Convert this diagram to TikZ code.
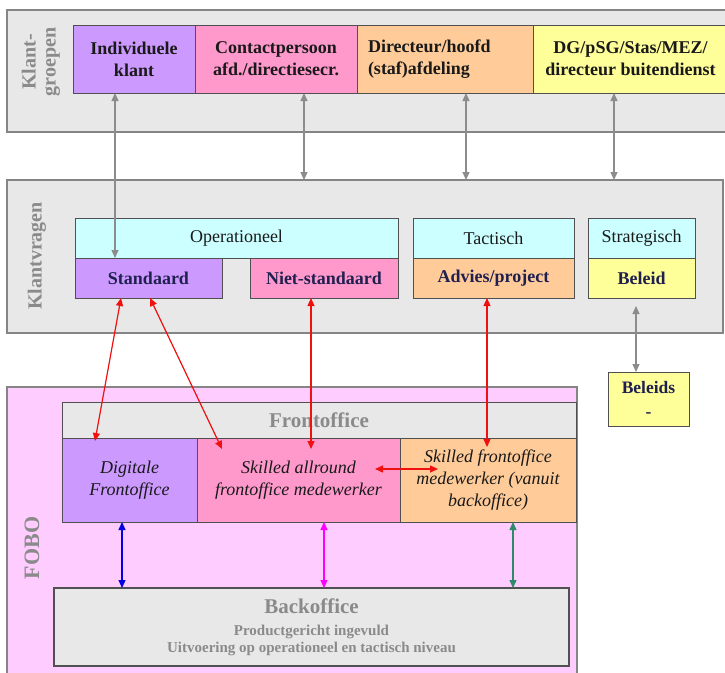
\documentclass[tikz,border=0pt]{standalone}
\usepackage{fontspec}
\setmainfont{Liberation Serif}
\usetikzlibrary{arrows.meta}
\definecolor{bandgray}{HTML}{E8E8E8}
\definecolor{bandline}{HTML}{858585}
\definecolor{boxline}{HTML}{505050}
\definecolor{labgray}{HTML}{8A8A8A}
\definecolor{cpurple}{HTML}{CC99FF}
\definecolor{cpink}{HTML}{FF99CC}
\definecolor{corange}{HTML}{FFCC99}
\definecolor{cyellow}{HTML}{FFFF99}
\definecolor{ccyan}{HTML}{CCFFFF}
\definecolor{fobopink}{HTML}{FFCCFF}
\definecolor{arrgray}{HTML}{8C8C8C}
\definecolor{arrred}{HTML}{F01010}
\definecolor{arrblue}{HTML}{0000E0}
\definecolor{arrmag}{HTML}{FF00FF}
\definecolor{arrgreen}{HTML}{2E8B6A}
\definecolor{navy}{HTML}{202050}
\begin{document}
\begin{tikzpicture}[x=1pt,y=-1pt,
  band/.style={draw=bandline, line width=1.3pt, fill=bandgray, inner sep=0pt, outer sep=0pt},
  box/.style={draw=boxline, line width=0.8pt, inner sep=2pt, outer sep=0pt, align=center, text=black!90},
  topfont/.style={font=\fontsize{18}{22}\selectfont\bfseries},
  midfont/.style={font=\fontsize{18}{21}\selectfont},
  midbold/.style={font=\fontsize{18}{21}\selectfont\bfseries, text=navy},
  itfont/.style={font=\fontsize{18}{22}\selectfont\itshape},
  sidelab/.style={rotate=90, align=center, text=labgray, font=\fontsize{20}{20}\selectfont\bfseries},
  tip/.tip={Triangle[length=8pt,width=7pt]},
  garrow/.style={tip-tip, draw=arrgray, fill=arrgray, line width=1.2pt},
  rarrow/.style={tip-tip, draw=arrred, fill=arrred, line width=1.2pt},
]
\useasboundingbox (0,0) rectangle (725,672);
\clip (0,0) rectangle (725,672);

% ---- Klantgroepen band
\node[band, minimum width=726pt, minimum height=122pt] (kg) at (370,71) {};
\node[sidelab] (kglab) at (41,62) {Klant-\\groepen};
\node[box, fill=cpurple, topfont, minimum width=122pt, minimum height=68pt] (ind) at (134,59) {Individuele\\klant};
\node[box, fill=cpink, topfont, minimum width=162pt, minimum height=68pt] (con) at (276,59) {Contactpersoon\\afd./directiesecr.};
\node[box, fill=corange, topfont, minimum width=176pt, minimum height=68pt, text width=154pt, align=left] (dir) at (445,59) {Directeur/hoofd\\(staf)afdeling};
\node[box, fill=cyellow, topfont, minimum width=195pt, minimum height=68pt] (dg) at (630.5,59) {DG/pSG/Stas/MEZ/\\directeur buitendienst};

% ---- Klantvragen band
\node[band, minimum width=716pt, minimum height=153pt] (kv) at (365,256.5) {};
\node[sidelab] (kvlab) at (37,256) {Klantvragen};
\node[box, fill=ccyan, midfont, minimum width=323pt, minimum height=40pt] (op) at (236.5,238) {Operationeel};
\node[box, fill=cpurple, midbold, minimum width=147pt, minimum height=40pt] (std) at (148.5,278) {Standaard};
\node[box, fill=cpink, midbold, minimum width=148pt, minimum height=40pt] (nst) at (324,278) {Niet-standaard};
\node[box, fill=ccyan, midfont, minimum width=161pt, minimum height=40pt] (tac) at (493.5,238) {Tactisch};
\node[box, fill=corange, midbold, minimum width=161pt, minimum height=40pt] (adv) at (493.5,278) {Advies/project};
\node[box, fill=ccyan, midfont, minimum width=107pt, minimum height=40pt] (str) at (641.5,238) {Strategisch};
\node[box, fill=cyellow, midbold, minimum width=107pt, minimum height=40pt] (bel) at (641.5,278) {Beleid};

\node[box, fill=cyellow, midbold, minimum width=81pt, minimum height=54pt, font=\fontsize{17.5}{24}\selectfont\bfseries] (bels) at (648.5,399) {Beleids\\-};

% ---- FOBO band
\node[draw=bandline, line width=1.3pt, fill=fobopink, minimum width=570pt, minimum height=300pt, inner sep=0pt, outer sep=0pt] (fobo) at (292,537) {};
\node[sidelab, font=\fontsize{22}{22}\selectfont\bfseries] (fobolab) at (32,548) {FOBO};
\node[box, fill=bandgray, minimum width=514pt, minimum height=36pt, text=labgray, font=\fontsize{21}{21}\selectfont\bfseries] (fo) at (319,420) {Frontoffice};
\node[box, fill=cpurple, itfont, minimum width=135pt, minimum height=84pt] (dig) at (129.5,480) {Digitale\\Frontoffice};
\node[box, fill=cpink, itfont, minimum width=203pt, minimum height=84pt] (sa) at (298.5,480) {Skilled allround\\frontoffice medewerker};
\node[box, fill=corange, itfont, minimum width=176pt, minimum height=84pt] (sf) at (488,480) {Skilled frontoffice\\medewerker (vanuit\\backoffice)};
\node[box, fill=bandgray, minimum width=515pt, minimum height=78pt, text=labgray, line width=1.3pt, font=\fontsize{15}{17}\selectfont\bfseries] (bo) at (311.5,627)
  {{\fontsize{21}{24}\selectfont Backoffice}\\[5pt]Productgericht ingevuld\\Uitvoering op operationeel en tactisch niveau};

% ---- gray arrows
\draw[garrow] ([xshift=-19pt]ind.south) -- ([xshift=-33.5pt]std.north);
\draw[garrow] ([xshift=28pt]con.south) -- ([xshift=-61pt]kv.north);
\draw[garrow] ([xshift=21pt]dir.south) -- ([xshift=101pt]kv.north);
\draw[garrow] ([xshift=-16.5pt]dg.south) -- ([xshift=249pt]kv.north);
\draw[garrow] ([xshift=-5.5pt,yshift=-8pt]bel.south) -- ([xshift=-12.5pt]bels.north);

% ---- red arrows
\draw[rarrow] ([xshift=-27.5pt]std.south) -- ([xshift=-34.5pt,yshift=-3pt]dig.north);
\draw[rarrow] ([xshift=1.5pt]std.south) -- ([xshift=-76.5pt,yshift=-11pt]sa.north);
\draw[rarrow] ([xshift=-13pt]nst.south) -- ([xshift=12.5pt,yshift=-11pt]sa.north);
\draw[rarrow] ([xshift=-6.5pt]adv.south) -- ([xshift=-1pt,yshift=-9pt]sf.north);
\draw[rarrow] ([xshift=76.5pt,yshift=11pt]sa.center) -- ([xshift=-50pt,yshift=11pt]sf.center);

% ---- FO-BO arrows
\draw[tip-tip, draw=arrblue, fill=arrblue, line width=1.2pt] ([xshift=-7.5pt]dig.south) -- ([xshift=-189.5pt]bo.north);
\draw[tip-tip, draw=arrmag, fill=arrmag, line width=1.2pt] ([xshift=25.5pt]sa.south) -- ([xshift=12.5pt]bo.north);
\draw[tip-tip, draw=arrgreen, fill=arrgreen, line width=1.2pt] ([xshift=25pt]sf.south) -- ([xshift=201.5pt]bo.north);
\end{tikzpicture}
\end{document}
